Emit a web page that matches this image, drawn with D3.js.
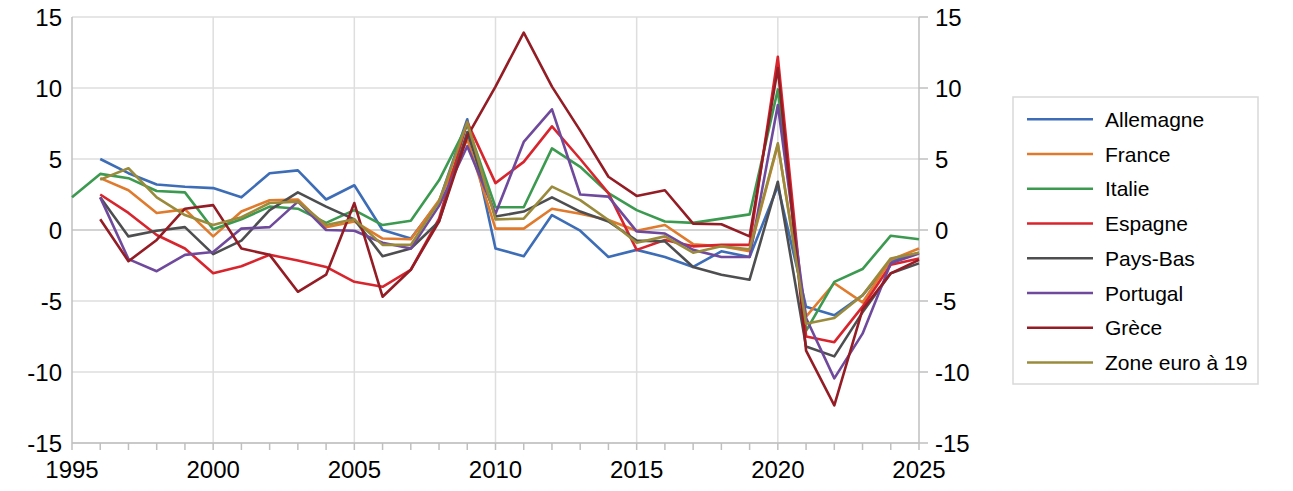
<!DOCTYPE html>
<html>
<head>
<meta charset="utf-8">
<script src="https://cdn.jsdelivr.net/npm/d3@7"></script>
<style>
  html, body { margin: 0; padding: 0; background: #fff; }
  svg { display: block; }
  text { font-family: "Liberation Sans", Arial, sans-serif; fill: #000; }
</style>
</head>
<body>
<svg id="chart" width="1293" height="491"></svg>
<script>
const years = d3.range(1995, 2026);
const seriesNames = ["Allemagne", "France", "Italie", "Espagne", "Pays-Bas", "Portugal", "Grèce", "Zone euro à 19"];
const seriesColors = ["#3d6db6", "#e07a2c", "#3c9a50", "#d8252d", "#4e4e50", "#6f4a9c", "#941c24", "#9a8b3c"];
const yTicks = [-15, -10, -5, 0, 5, 10, 15];
const xLabels = [1995, 2000, 2005, 2010, 2015, 2020, 2025];

const allemagne = [null, 5.0, 4.0, 3.2, 3.05, 2.95, 2.3, 4.0, 4.2, 2.15, 3.15, 0.0, -0.6, 2.0, 7.8, -1.3, -1.85, 1.05, -0.05, -1.9, -1.4, -1.9, -2.6, -1.5, -1.9, 3.1, -5.4, -6.0, -4.6, -2.2, -1.6];
const france = [null, 3.65, 2.8, 1.2, 1.45, -0.45, 1.3, 2.1, 2.15, 0.2, 0.6, -0.6, -0.65, 2.1, 6.4, 0.1, 0.1, 1.5, 1.15, 0.7, -0.05, 0.35, -1.0, -1.15, -1.5, 6.0, -6.1, -3.75, -5.1, -2.1, -1.3];
const italie = [2.3, 3.95, 3.65, 2.75, 2.65, 0.05, 0.75, 1.65, 1.5, 0.5, 1.4, 0.35, 0.65, 3.5, 7.4, 1.6, 1.6, 5.75, 4.45, 2.6, 1.4, 0.6, 0.5, 0.8, 1.1, 9.9, -7.1, -3.65, -2.75, -0.4, -0.65];
const espagne = [null, 2.5, 1.2, -0.35, -1.3, -3.05, -2.55, -1.75, -2.15, -2.6, -3.65, -4.0, -2.8, 0.8, 7.6, 3.3, 4.8, 7.3, 5.0, 2.6, -1.4, -0.7, -1.15, -1.05, -1.05, 12.2, -7.5, -7.9, -5.4, -2.45, -2.0];
const paysBas = [null, 2.3, -0.45, -0.05, 0.2, -1.7, -0.75, 1.4, 2.65, 1.65, 0.75, -1.85, -1.3, 0.6, 6.9, 0.95, 1.3, 2.3, 1.3, 0.6, -0.75, -0.8, -2.6, -3.15, -3.5, 3.4, -8.2, -8.9, -5.8, -3.05, -2.35];
const portugal = [null, 2.3, -2.05, -2.9, -1.75, -1.55, 0.1, 0.2, 2.0, 0.0, -0.05, -0.9, -1.3, 1.7, 5.9, 1.15, 6.2, 8.5, 2.5, 2.35, -0.1, -0.25, -1.4, -1.9, -1.9, 8.8, -6.2, -10.45, -7.3, -2.35, -1.65];
const grece = [null, 0.75, -2.2, -0.7, 1.5, 1.75, -1.3, -1.75, -4.35, -3.15, 1.9, -4.7, -2.8, 0.6, 6.6, 10.1, 13.9, 10.1, 7.0, 3.75, 2.4, 2.8, 0.45, 0.4, -0.45, 11.4, -8.5, -12.35, -5.6, -3.05, -2.1];
const zoneEuro = [null, 3.55, 4.35, 2.3, 1.05, 0.35, 0.9, 1.9, 2.0, 0.35, 0.75, -1.05, -1.05, 2.0, 7.6, 0.75, 0.8, 3.05, 2.1, 0.7, -0.9, -0.45, -1.6, -1.15, -1.35, 6.1, -6.6, -6.2, -4.6, -2.0, -1.6];

const seriesValues = [allemagne, france, italie, espagne, paysBas, portugal, grece, zoneEuro];

const svg = d3.select("#chart");
const plotLeft = 72, plotRight = 919, plotTop = 17, plotBottom = 443;

const x = d3.scaleLinear().domain([1995, 2025]).range([plotLeft, plotRight]);
const y = d3.scaleLinear().domain([-15, 15]).range([plotBottom, plotTop]);

// horizontal gridlines
svg.append("g").selectAll("line").data(yTicks).join("line")
  .attr("x1", plotLeft).attr("x2", plotRight)
  .attr("y1", d => y(d)).attr("y2", d => y(d))
  .attr("stroke", d => d === 0 ? "#c4c4c4" : "#dedede")
  .attr("stroke-width", 1.5);

// vertical gridlines
svg.append("g").selectAll("line").data(xLabels.slice(1, -1)).join("line")
  .attr("x1", d => x(d)).attr("x2", d => x(d))
  .attr("y1", plotTop).attr("y2", plotBottom)
  .attr("stroke", "#dedede").attr("stroke-width", 1.5);

// axes lines
const axisColor = "#bfbfbf";
svg.append("line").attr("x1", plotLeft).attr("x2", plotLeft).attr("y1", plotTop).attr("y2", plotBottom)
  .attr("stroke", axisColor).attr("stroke-width", 1.5);
svg.append("line").attr("x1", plotRight).attr("x2", plotRight).attr("y1", plotTop).attr("y2", plotBottom)
  .attr("stroke", axisColor).attr("stroke-width", 1.5);
svg.append("line").attr("x1", plotLeft).attr("x2", plotRight).attr("y1", plotBottom).attr("y2", plotBottom)
  .attr("stroke", axisColor).attr("stroke-width", 1.5);

// x ticks every year
svg.append("g").selectAll("line").data(years).join("line")
  .attr("x1", d => x(d)).attr("x2", d => x(d))
  .attr("y1", plotBottom).attr("y2", plotBottom + 7)
  .attr("stroke", axisColor).attr("stroke-width", 1.5);

// right ticks
svg.append("g").selectAll("line").data(yTicks).join("line")
  .attr("x1", plotRight).attr("x2", plotRight + 9)
  .attr("y1", d => y(d)).attr("y2", d => y(d))
  .attr("stroke", axisColor).attr("stroke-width", 1.5);

// x labels
svg.append("g").selectAll("text").data(xLabels).join("text")
  .attr("x", d => x(d)).attr("y", 478)
  .attr("text-anchor", "middle")
  .style("font-size", "24px")
  .text(d => d);

// left y labels
svg.append("g").selectAll("text").data(yTicks).join("text")
  .attr("x", 62).attr("y", d => y(d))
  .attr("text-anchor", "end").attr("dominant-baseline", "central")
  .style("font-size", "24px")
  .text(d => d);

// right y labels
svg.append("g").selectAll("text").data(yTicks).join("text")
  .attr("x", 935).attr("y", d => y(d))
  .attr("text-anchor", "start").attr("dominant-baseline", "central")
  .style("font-size", "24px")
  .text(d => d);

// lines
const line = d3.line()
  .defined(d => d.v !== null)
  .x(d => x(d.year)).y(d => y(d.v));

svg.append("g").selectAll("path").data(seriesValues).join("path")
  .attr("d", vals => line(vals.map((v, i) => ({ year: years[i], v }))))
  .attr("fill", "none")
  .attr("stroke", (d, i) => seriesColors[i])
  .attr("stroke-width", 2.6)
  .attr("stroke-linejoin", "round");

// legend
const lg = svg.append("g");
lg.append("rect").attr("x", 1013).attr("y", 97).attr("width", 245).attr("height", 287)
  .attr("fill", "#fff").attr("stroke", "#d9d9d9").attr("stroke-width", 1.5);
const items = lg.selectAll("g.item").data(seriesNames).join("g").attr("class", "item")
  .attr("transform", (d, i) => `translate(0, ${119.3 + i * 34.75})`);
items.append("line").attr("x1", 1027).attr("x2", 1093).attr("y1", 0).attr("y2", 0)
  .attr("stroke", (d, i) => seriesColors[i]).attr("stroke-width", 2.6);
items.append("text").attr("x", 1105).attr("y", 0)
  .attr("dominant-baseline", "central")
  .style("font-size", "21px")
  .text(d => d);
</script>
</body>
</html>
